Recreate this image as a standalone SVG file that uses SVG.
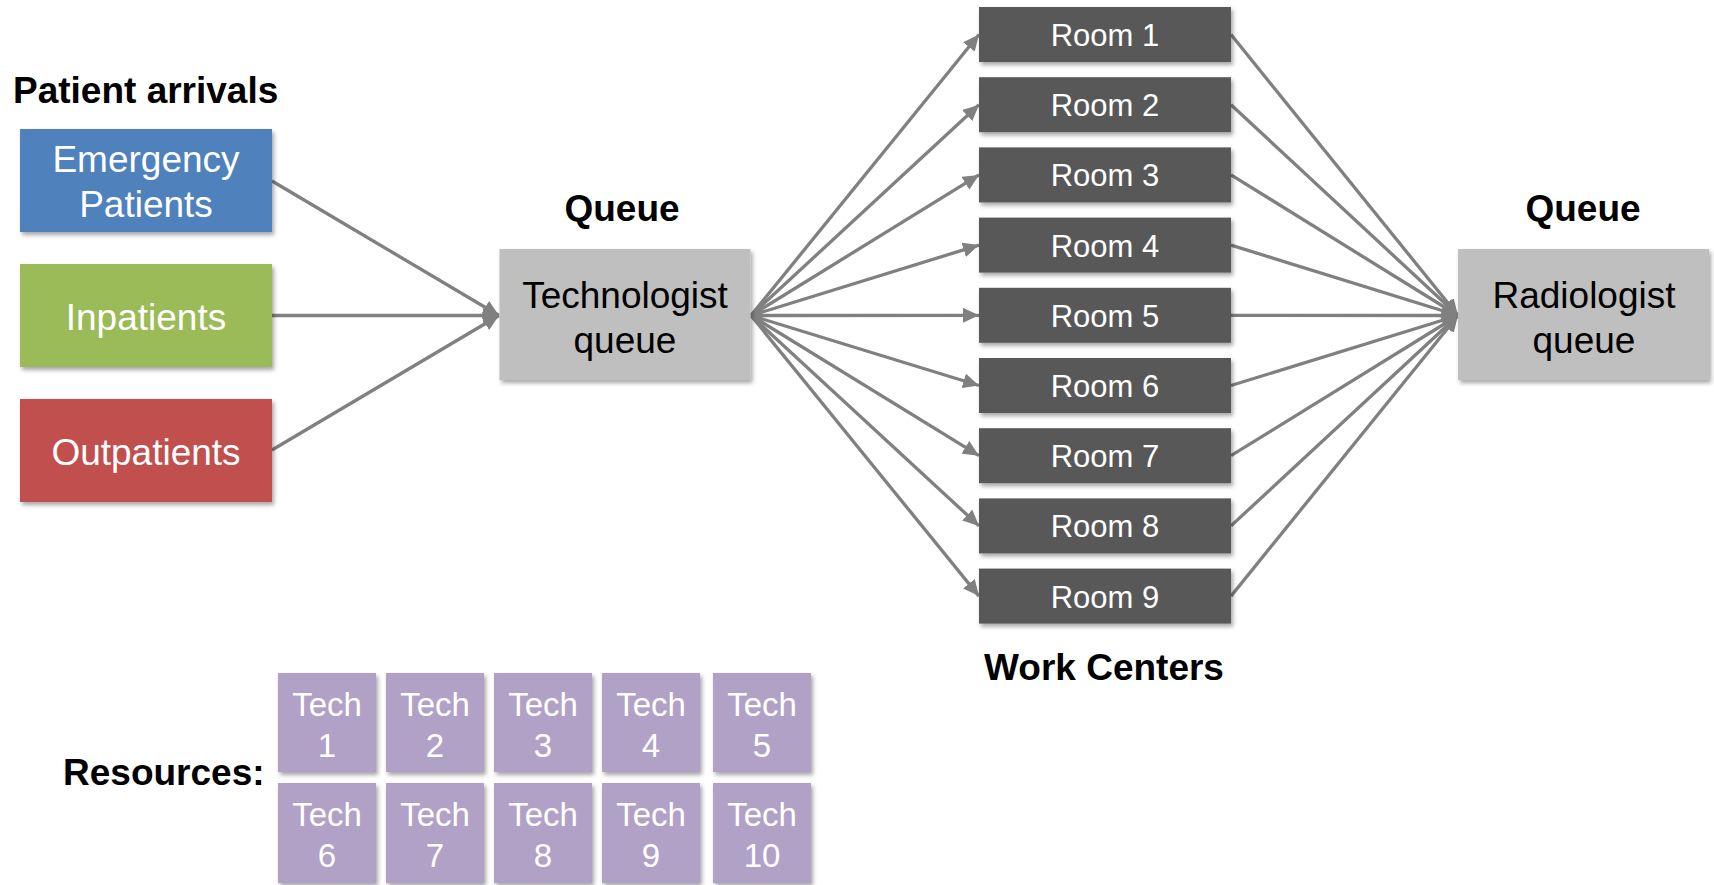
<svg xmlns="http://www.w3.org/2000/svg" width="1714" height="885" viewBox="0 0 1714 885">
<defs>
<filter id="sh" x="-10%" y="-10%" width="125%" height="135%">
<feDropShadow dx="2" dy="3" stdDeviation="2" flood-color="#000" flood-opacity="0.35"/>
</filter>
<marker id="ah" markerWidth="16" markerHeight="15" refX="16" refY="7.5" orient="auto" markerUnits="userSpaceOnUse">
<path d="M0,0 L16,7.5 L0,15 z" fill="#808080"/>
</marker>
</defs>
<style>
text{font-family:"Liberation Sans",Arial,sans-serif;text-anchor:middle}
.lbl{font-weight:bold;font-size:37px;fill:#000}
.bt{font-size:37px;fill:#fff}
.qt{font-size:37px;fill:#000}
.rt{font-size:31px;fill:#fff}
.tt{font-size:33px;fill:#fff}
.room{fill:#595959;filter:url(#sh)}
.tech{fill:#b2a1c7;filter:url(#sh)}
.q{fill:#bfbfbf;filter:url(#sh)}
.c line{stroke:#808080;stroke-width:3.3;marker-end:url(#ah)}
</style>
<rect width="1714" height="885" fill="#fff"/>

<g id="connectors" class="c">
<line x1="272" y1="181" x2="499" y2="315.5"/>
<line x1="272" y1="315.5" x2="499" y2="315.5"/>
<line x1="272" y1="450" x2="499" y2="315.5"/>
<line x1="751" y1="315.5" x2="979" y2="34.5"/>
<line x1="751" y1="315.5" x2="979" y2="104.7"/>
<line x1="751" y1="315.5" x2="979" y2="174.9"/>
<line x1="751" y1="315.5" x2="979" y2="245.1"/>
<line x1="751" y1="315.5" x2="979" y2="315.3"/>
<line x1="751" y1="315.5" x2="979" y2="385.5"/>
<line x1="751" y1="315.5" x2="979" y2="455.7"/>
<line x1="751" y1="315.5" x2="979" y2="525.9"/>
<line x1="751" y1="315.5" x2="979" y2="596.1"/>
<line x1="1231" y1="34.5" x2="1458" y2="315.5"/>
<line x1="1231" y1="104.7" x2="1458" y2="315.5"/>
<line x1="1231" y1="174.9" x2="1458" y2="315.5"/>
<line x1="1231" y1="245.1" x2="1458" y2="315.5"/>
<line x1="1231" y1="315.3" x2="1458" y2="315.5"/>
<line x1="1231" y1="385.5" x2="1458" y2="315.5"/>
<line x1="1231" y1="455.7" x2="1458" y2="315.5"/>
<line x1="1231" y1="525.9" x2="1458" y2="315.5"/>
<line x1="1231" y1="596.1" x2="1458" y2="315.5"/>
</g>

<g id="labels">
<text class="lbl" x="13" y="103" style="text-anchor:start">Patient arrivals</text>
<text class="lbl" x="622" y="221">Queue</text>
<text class="lbl" x="1583" y="221">Queue</text>
<text class="lbl" x="1104" y="680">Work Centers</text>
<text class="lbl" x="63" y="785" style="text-anchor:start">Resources:</text>
</g>

<g id="emergency"><rect x="20" y="129" width="252" height="103" fill="#4f81bd" filter="url(#sh)"/><text class="bt" x="146" y="172">Emergency</text><text class="bt" x="146" y="217">Patients</text></g>
<g id="inpatients"><rect x="20" y="264" width="252" height="103" fill="#9bbb59" filter="url(#sh)"/><text class="bt" x="146" y="330">Inpatients</text></g>
<g id="outpatients"><rect x="20" y="399" width="252" height="103" fill="#c0504d" filter="url(#sh)"/><text class="bt" x="146" y="465">Outpatients</text></g>

<g id="tech-queue"><rect class="q" x="499.5" y="249" width="251" height="131"/><text class="qt" x="625" y="308">Technologist</text><text class="qt" x="625" y="353">queue</text></g>
<g id="rad-queue"><rect class="q" x="1458" y="249" width="251" height="131"/><text class="qt" x="1584" y="308">Radiologist</text><text class="qt" x="1584" y="353">queue</text></g>

<g id="room1"><rect class="room" x="979" y="7" width="252" height="55"/><text class="rt" x="1105" y="46">Room 1</text></g>
<g id="room2"><rect class="room" x="979" y="77.2" width="252" height="55"/><text class="rt" x="1105" y="116.2">Room 2</text></g>
<g id="room3"><rect class="room" x="979" y="147.4" width="252" height="55"/><text class="rt" x="1105" y="186.4">Room 3</text></g>
<g id="room4"><rect class="room" x="979" y="217.6" width="252" height="55"/><text class="rt" x="1105" y="256.6">Room 4</text></g>
<g id="room5"><rect class="room" x="979" y="287.8" width="252" height="55"/><text class="rt" x="1105" y="326.8">Room 5</text></g>
<g id="room6"><rect class="room" x="979" y="358" width="252" height="55"/><text class="rt" x="1105" y="397">Room 6</text></g>
<g id="room7"><rect class="room" x="979" y="428.2" width="252" height="55"/><text class="rt" x="1105" y="467.2">Room 7</text></g>
<g id="room8"><rect class="room" x="979" y="498.4" width="252" height="55"/><text class="rt" x="1105" y="537.4">Room 8</text></g>
<g id="room9"><rect class="room" x="979" y="568.6" width="252" height="55"/><text class="rt" x="1105" y="607.6">Room 9</text></g>

<g id="tech1"><rect class="tech" x="278" y="673" width="98" height="99"/><text class="tt" x="327" y="716">Tech</text><text class="tt" x="327" y="757">1</text></g>
<g id="tech2"><rect class="tech" x="386" y="673" width="98" height="99"/><text class="tt" x="435" y="716">Tech</text><text class="tt" x="435" y="757">2</text></g>
<g id="tech3"><rect class="tech" x="494" y="673" width="98" height="99"/><text class="tt" x="543" y="716">Tech</text><text class="tt" x="543" y="757">3</text></g>
<g id="tech4"><rect class="tech" x="602" y="673" width="98" height="99"/><text class="tt" x="651" y="716">Tech</text><text class="tt" x="651" y="757">4</text></g>
<g id="tech5"><rect class="tech" x="713" y="673" width="98" height="99"/><text class="tt" x="762" y="716">Tech</text><text class="tt" x="762" y="757">5</text></g>
<g id="tech6"><rect class="tech" x="278" y="783" width="98" height="100"/><text class="tt" x="327" y="826">Tech</text><text class="tt" x="327" y="867">6</text></g>
<g id="tech7"><rect class="tech" x="386" y="783" width="98" height="100"/><text class="tt" x="435" y="826">Tech</text><text class="tt" x="435" y="867">7</text></g>
<g id="tech8"><rect class="tech" x="494" y="783" width="98" height="100"/><text class="tt" x="543" y="826">Tech</text><text class="tt" x="543" y="867">8</text></g>
<g id="tech9"><rect class="tech" x="602" y="783" width="98" height="100"/><text class="tt" x="651" y="826">Tech</text><text class="tt" x="651" y="867">9</text></g>
<g id="tech10"><rect class="tech" x="713" y="783" width="98" height="100"/><text class="tt" x="762" y="826">Tech</text><text class="tt" x="762" y="867">10</text></g>
</svg>
